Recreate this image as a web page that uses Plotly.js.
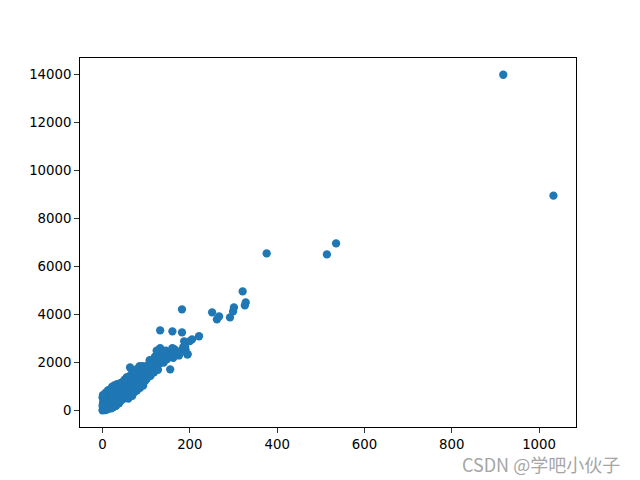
<!DOCTYPE html>
<html>
<head>
<meta charset="utf-8">
<script src="https://cdn.plot.ly/plotly-3.0.1.min.js"></script>
<style>html,body{margin:0;padding:0;background:#fff;}#chart{width:640px;height:480px;}</style>
</head>
<body>
<div id="chart"></div>
<script>
// Estimated scatter data
var xValues = [
  0,1,2,1,0,1,3,2,4,5,6,7,5,8,9,10,11,12,13,14,15,16,17,18,19,20,3,6,10,14,0,2,20,25,
  21,22,23,24,25,26,27,28,29,30,31,32,33,34,35,36,37,38,39,40,38,
  41,42,43,44,45,46,47,48,49,50,51,52,53,54,55,56,57,58,59,60,
  63,63,64,65,66,67,68,70,71,72,74,75,76,78,79,80,77,69,
  82,84,85,86,88,90,91,93,95,96,98,100,99,92,
  102,104,106,108,110,112,115,118,120,122,124,125,127,129,130,132,128,
  135,138,140,142,145,148,150,155,158,160,162,165,170,175,180,185,190,195,200,205,221,187,189,194,
  132,160,182,182,251,262,267,292,299,301,321,326,328,376,514,535,918,1033
];
var yValues = [
  17,50,120,300,550,650,650,420,200,80,350,500,700,760,260,150,600,450,850,330,720,200,560,880,400,250,30,20,40,90,200,600,100,150,
  700,1000,380,550,850,300,1050,640,480,950,200,760,1100,420,590,1050,310,880,700,500,320,
  1150,420,800,980,600,1200,480,1100,720,900,1300,560,1000,1250,650,1400,820,1150,500,1300,
  1800,900,700,1500,1100,1250,620,1650,950,1400,780,1200,1550,1000,850,1750,1350,1050,
  1300,1100,1850,950,1500,1650,1200,1050,1750,1400,1250,1600,1800,1850,
  1350,1900,1500,2100,1450,1700,1950,1600,2250,1800,2500,2050,1700,2300,1950,2600,2450,
  2150,2400,2000,2250,2500,2150,2350,1720,2450,2600,2200,2550,2400,2300,2500,2650,2550,2350,2900,2970,3100,2890,2680,2346,
  3346,3304,3262,4221,4096,3804,3929,3887,4137,4304,4970,4387,4512,6554,6512,6970,14000,8960
];
var xTicks = [0,200,400,600,800,1000];
var yTicks = [0,2000,4000,6000,8000,10000,12000,14000];

function padRange(arr){
  var mn = Math.min.apply(null, arr), mx = Math.max.apply(null, arr);
  var d = (mx - mn) * 0.05;
  return [mn - d, mx + d];
}

var trace = {
  type: 'scatter',
  mode: 'markers',
  x: xValues,
  y: yValues,
  marker: {color: '#1f77b4', size: 8.3, line: {width: 0}},
  hoverinfo: 'x+y'
};

var axisCommon = {
  showgrid: false,
  zeroline: false,
  showline: true,
  mirror: true,
  linecolor: '#000',
  linewidth: 1,
  ticks: 'outside',
  ticklen: 4.9,
  tickwidth: 0.8,
  tickcolor: '#000',
  tickfont: {family: 'DejaVu Sans, sans-serif', size: 13.3, color: '#000'},
  tickmode: 'array'
};

var layout = {
  width: 640,
  height: 480,
  margin: {l: 80, r: 64, t: 58, b: 53, pad: 0},
  paper_bgcolor: '#fff',
  plot_bgcolor: '#fff',
  showlegend: false,
  xaxis: Object.assign({}, axisCommon, {
    range: padRange(xValues),
    tickvals: xTicks,
    ticktext: xTicks.map(String)
  }),
  yaxis: Object.assign({}, axisCommon, {
    range: padRange(yValues),
    tickvals: yTicks,
    ticktext: yTicks.map(String)
  }),
  annotations: [{
    text: 'CSDN @学吧小伙子',
    xref: 'paper', yref: 'paper',
    x: 1.093, y: -0.1,
    xanchor: 'right', yanchor: 'middle',
    showarrow: false,
    font: {family: 'Noto Sans CJK SC, sans-serif', size: 18, color: '#a6a6a6'}
  }]
};

Plotly.newPlot('chart', [trace], layout, {displayModeBar: false, staticPlot: true});
</script>
</body>
</html>
